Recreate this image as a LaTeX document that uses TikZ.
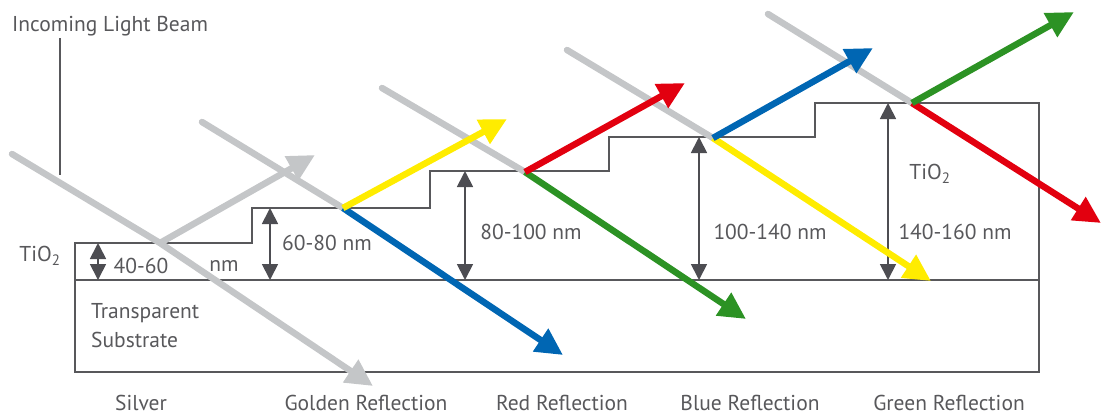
\documentclass[tikz,border=0pt]{standalone}
\usepackage{fontspec}
\setmainfont{PT Sans}
\usetikzlibrary{arrows.meta}
\definecolor{beamgray}{HTML}{C4C6C8}
\definecolor{beamyellow}{HTML}{FFEC00}
\definecolor{beamred}{HTML}{E2000F}
\definecolor{beamblue}{HTML}{0066B3}
\definecolor{beamgreen}{HTML}{2C9224}
\definecolor{inkgray}{HTML}{58585B}
\definecolor{dimgray}{HTML}{4D4D52}
\tikzset{
  lbl/.style={font=\fontsize{21.5}{24}\selectfont, text=inkgray, inner sep=0pt},
  boxline/.style={draw=inkgray, line width=1.8pt},
  leader/.style={draw=inkgray, line width=1.8pt},
  dimarrow/.style={draw=dimgray, line width=1.8pt, {Triangle[length=16pt,width=16pt]}-{Triangle[length=16pt,width=16pt]}},
  beamin/.style={draw=beamgray, line width=6.5pt, line cap=round},
  beamout/.style={line width=6.5pt, -{Triangle[length=27pt,width=26pt]}},
}
\begin{document}
\begin{tikzpicture}[x=1pt,y=-1pt]
\useasboundingbox (0,0) rectangle (1101,416);

% layer structure
\draw[boxline] (75,372) -- (75,243) -- (252,243) -- (252,208) -- (430,208) -- (430,171)
  -- (609,171) -- (609,137) -- (815,137) -- (815,103) -- (1039,103) -- (1039,372) -- cycle;
\draw[boxline] (75,280) -- (1039,280);

% labels
\node[lbl, anchor=base west] (title) at (12,31) {Incoming Light Beam};
\coordinate (leadtop) at (60,38);
\coordinate (leadbot) at (60,175);
\draw[leader] (leadtop) -- (leadbot);

\node[lbl] (tioL) at (40,256) {TiO\textsubscript{2}};
\node[lbl] (tioR) at (930,174) {TiO\textsubscript{2}};
\node[lbl] (d1a) at (141,266) {40-60};
\node[lbl] (d1b) at (224,266) {nm};
\node[lbl] (d2) at (327,243) {60-80 nm};
\node[lbl] (d3) at (531,232) {80-100 nm};
\node[lbl] (d4) at (770,232) {100-140 nm};
\node[lbl] (d5) at (955,232) {140-160 nm};
\node[lbl, anchor=west] (sub1) at (91,313) {Transparent};
\node[lbl, anchor=west] (sub2) at (91,340) {Substrate};
\node[lbl] (silver) at (141,403) {Silver};
\node[lbl] (golden) at (366,403) {Golden Reflection};
\node[lbl] (red) at (562,403) {Red Reflection};
\node[lbl] (blue) at (750,403) {Blue Reflection};
\node[lbl] (green) at (949,403) {Green Reflection};

% dimension arrows
\coordinate (a1t) at (98,243);  \coordinate (a1b) at (98,280);
\coordinate (a2t) at (270,208); \coordinate (a2b) at (270,280);
\coordinate (a3t) at (465,171); \coordinate (a3b) at (465,280);
\coordinate (a4t) at (699,137); \coordinate (a4b) at (699,280);
\coordinate (a5t) at (888,103); \coordinate (a5b) at (888,280);
\draw[dimarrow] (a1t) -- (a1b);
\draw[dimarrow] (a2t) -- (a2b);
\draw[dimarrow] (a3t) -- (a3b);
\draw[dimarrow] (a4t) -- (a4b);
\draw[dimarrow] (a5t) -- (a5b);

% beams: start, hit, reflected tip, transmitted tip
\coordinate (s1) at (12,154);  \coordinate (h1) at (160,243);
\coordinate (r1) at (315,155); \coordinate (t1) at (373,386);
\coordinate (s2) at (202,122); \coordinate (h2) at (343,208);
\coordinate (r2) at (507,119); \coordinate (t2) at (563,355);
\coordinate (s3) at (382,88);  \coordinate (h3) at (525,172);
\coordinate (r3) at (685,83);  \coordinate (t3) at (746,319);
\coordinate (s4) at (567,50);  \coordinate (h4) at (713,138);
\coordinate (r4) at (873,48);  \coordinate (t4) at (931,281);
\coordinate (s5) at (768,14);  \coordinate (h5) at (912,103);
\coordinate (r5) at (1074,12); \coordinate (t5) at (1101,223);

% incoming (gray)
\draw[beamin] (s1) -- (h1);
\draw[beamin] (s2) -- (h2);
\draw[beamin] (s3) -- (h3);
\draw[beamin] (s4) -- (h4);
\draw[beamin] (s5) -- (h5);

% silver
\draw[beamout, draw=beamgray, fill=beamgray] (h1) -- (r1);
\draw[beamout, draw=beamgray, fill=beamgray] (h1) -- (t1);
% golden
\draw[beamout, draw=beamblue, fill=beamblue] (h2) -- (t2);
\draw[beamout, draw=beamyellow, fill=beamyellow] (h2) -- (r2);
% red
\draw[beamout, draw=beamgreen, fill=beamgreen] (h3) -- (t3);
\draw[beamout, draw=beamred, fill=beamred] (h3) -- (r3);
% blue
\draw[beamout, draw=beamyellow, fill=beamyellow] (h4) -- (t4);
\draw[beamout, draw=beamblue, fill=beamblue] (h4) -- (r4);
% green
\draw[beamout, draw=beamred, fill=beamred] (h5) -- (t5);
\draw[beamout, draw=beamgreen, fill=beamgreen] (h5) -- (r5);
\end{tikzpicture}
\end{document}
